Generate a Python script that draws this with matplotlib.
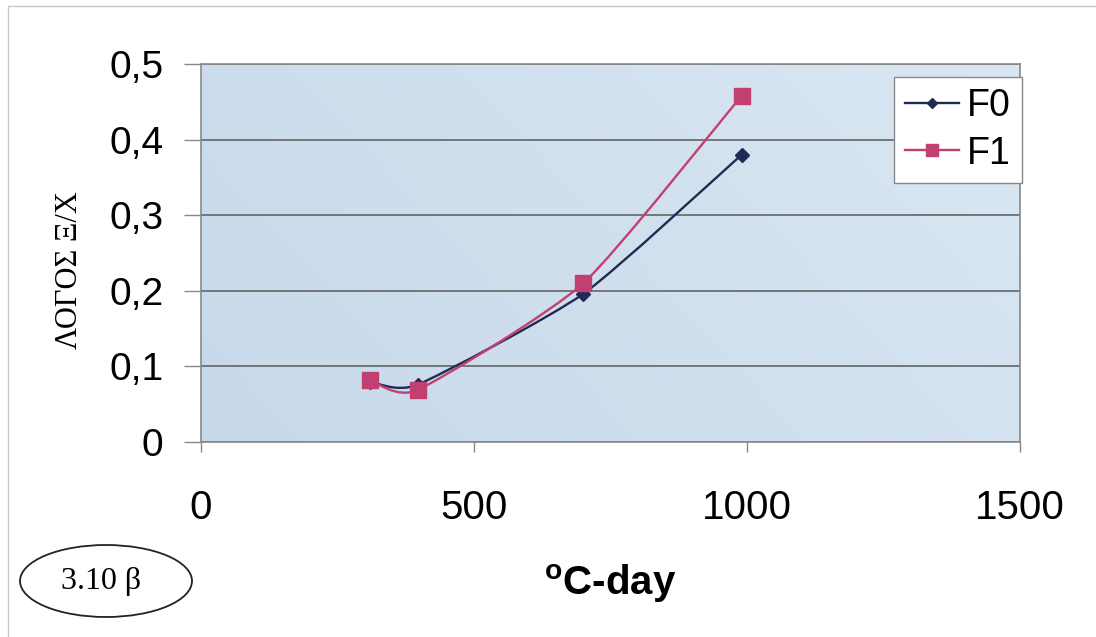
import numpy as np
import matplotlib
matplotlib.use("Agg")
import matplotlib.pyplot as plt
from matplotlib.path import Path
from matplotlib.patches import PathPatch, Ellipse, Rectangle

# values
gdd = [310, 397, 700, 990]
f0 = [0.080, 0.076, 0.196, 0.380]
f1 = [0.082, 0.069, 0.210, 0.458]
labels = ["F0", "F1"]
yticks = [0, 0.1, 0.2, 0.3, 0.4, 0.5]
ytick_text = ["0", "0,1", "0,2", "0,3", "0,4", "0,5"]
xticks = [0, 500, 1000, 1500]

plt.rcParams['font.family'] = ['Liberation Sans', 'DejaVu Sans']


def smooth_path(xs, ys, t=0.1):
    # wygladzona linia jak w excelu: odcinki beziera przez punkty
    p = list(zip(xs, ys))
    p = [p[0]] + p + [p[-1]]
    verts = [p[1]]
    codes = [Path.MOVETO]
    for i in range(1, len(p) - 2):
        a, b, c, d = p[i - 1], p[i], p[i + 1], p[i + 2]
        c1 = (b[0] + (c[0] - a[0]) * t, b[1] + (c[1] - a[1]) * t)
        c2 = (c[0] - (d[0] - b[0]) * t, c[1] - (d[1] - b[1]) * t)
        verts += [c1, c2, c]
        codes += [Path.CURVE4] * 3
    return Path(verts, codes)


fig = plt.figure(figsize=(10.96, 6.37), dpi=100)
fig.patch.set_facecolor("white")
fig.patches.append(Rectangle((8 / 1096, -0.1), 1.2, 1 - 6 / 637 + 0.1,
                             transform=fig.transFigure, fill=False,
                             edgecolor="#c8c8c8", lw=1))

ax = fig.add_axes([0.1834, 0.306, 0.7473, 0.5935])

# tlo: jasnoniebieskie, troche ciemniejsze w lewym gornym rogu
tlo = np.array([[0.780, 0.850, 0.920], [0.855, 0.905, 0.950]])
gx = np.linspace(0, 1, 256)[None, :]
gy = np.linspace(0, 1, 128)[:, None]
grad = (0.7 * gx + 0.3 * gy)[:, :, None]
obraz = tlo[0] + (tlo[1] - tlo[0]) * grad
ax.imshow(obraz, extent=(0, 1500, 0.5, 0), aspect="auto", zorder=0, interpolation="bilinear")
ax.set_ylim(0, 0.5)

kolory = ["#1f2b55", "#c2406f"]
markery = ["D", "s"]
rozm = [7, 11]
for ys, lab, k, m, r in zip([f0, f1], labels, kolory, markery, rozm):
    ax.add_patch(PathPatch(smooth_path(gdd, ys), fill=False, edgecolor=k, lw=1.7, zorder=3))
    ax.plot(gdd, ys, ls="none", marker=m, ms=r, color=k, zorder=4)
    ax.plot([], [], color=k, lw=1.7, marker=m, ms=r * 0.75, label=lab)

ax.set_xlim(0, 1500)
ax.set_ylim(0, 0.5)
ax.set_xticks(xticks)
ax.set_xticklabels([str(v) for v in xticks], fontsize=29)
ax.set_yticks(yticks)
ax.set_yticklabels(ytick_text, fontsize=28)
ax.tick_params(axis="x", length=7, pad=27, color="#888888", width=1)
ax.tick_params(axis="y", length=12, pad=15, color="#888888", width=1)
ax.grid(axis="y", color="#5a5a5a", lw=1.1, zorder=1)
for s in ax.spines.values():
    s.set_color("#8a8a8a")
    s.set_linewidth(1.2)

ax.set_xlabel("$\\mathregular{^o}$C-day", fontsize=29, fontweight="bold", labelpad=25)
ax.set_ylabel("ΛΟΓΟΣ Ξ/Χ", family=['Liberation Serif', 'DejaVu Serif'], fontsize=22)
ax.yaxis.set_label_coords((84 - 201) / 819, (442 - 270) / 378)

leg = ax.legend(loc="upper right", bbox_to_anchor=(1022 / 1096, 1 - 77 / 637),
                bbox_transform=fig.transFigure, fontsize=27, frameon=True,
                fancybox=False, handlelength=1.45, handletextpad=0.2,
                borderpad=0.3, labelspacing=0.3, borderaxespad=0)
leg.get_frame().set_edgecolor("#888888")
leg.get_frame().set_linewidth(1)
leg.get_frame().set_facecolor("white")
leg.get_frame().set_alpha(1)

fig.patches.append(Ellipse((106 / 1096, 1 - 581 / 637), 172 / 1096, 72 / 637,
                           transform=fig.transFigure, fill=False, edgecolor="#222222", lw=1.3))
fig.text(101 / 1096, 1 - 581 / 637, "3.10 β", ha="center", va="center",
         family=['Liberation Serif', 'DejaVu Serif'], fontsize=23)

fig.savefig("out.png", dpi=100)
